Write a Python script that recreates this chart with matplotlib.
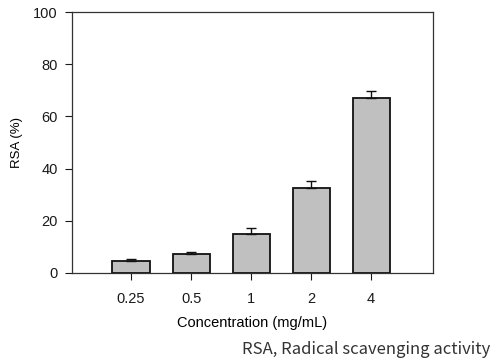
import matplotlib
matplotlib.use("Agg")
import matplotlib.pyplot as plt
import numpy as np

categories = ["0.25", "0.5", "1", "2", "4"]
rsa = [4.4, 7.1, 14.9, 32.7, 67.1]
err = [0.75, 1.0, 2.2, 2.7, 2.8]
yticks = [0, 20, 40, 60, 80, 100]

plt.rcParams['font.family'] = ['Liberation Sans', 'DejaVu Sans']

fig = plt.figure(figsize=(4.92, 3.6), dpi=100)
ax = fig.add_axes([0.1457, 0.2425, 0.880 - 0.1457, 0.9658 - 0.2425])

x = np.arange(len(categories))
ax.bar(x, rsa, width=0.62, color='#c0c0c0', edgecolor='#111111', linewidth=1.3, zorder=2)
ax.errorbar(x, rsa, yerr=[np.zeros(len(err)), err], fmt='none', ecolor='#111111',
            elinewidth=1.0, capsize=3.5, capthick=1.0, zorder=3)

ax.set_xlim(-0.99, 5.03)
ax.set_ylim(0, 100)
ax.set_xticks(x)
ax.set_xticklabels(categories, fontsize=10.5)
ax.set_yticks(yticks)
ax.set_yticklabels([str(v) for v in yticks], fontsize=10.5)
ax.tick_params(direction='out', length=5, width=0.8, colors='#1a1a1a', pad=5)
ax.tick_params(axis='x', pad=9)
for s in ax.spines.values():
    s.set_linewidth(0.9)
    s.set_color('#333333')
ax.set_xlabel("Concentration (mg/mL)", fontsize=10.5, labelpad=7)
ax.set_ylabel("RSA (%)", fontsize=9.5, labelpad=7)

fig.text(0.997, 0.016, "RSA, Radical scavenging activity", ha='right', va='baseline',
         fontsize=12, family=['Noto Sans CJK KR', 'DejaVu Sans'], color='#333333')

fig.savefig("out.png", dpi=100)
